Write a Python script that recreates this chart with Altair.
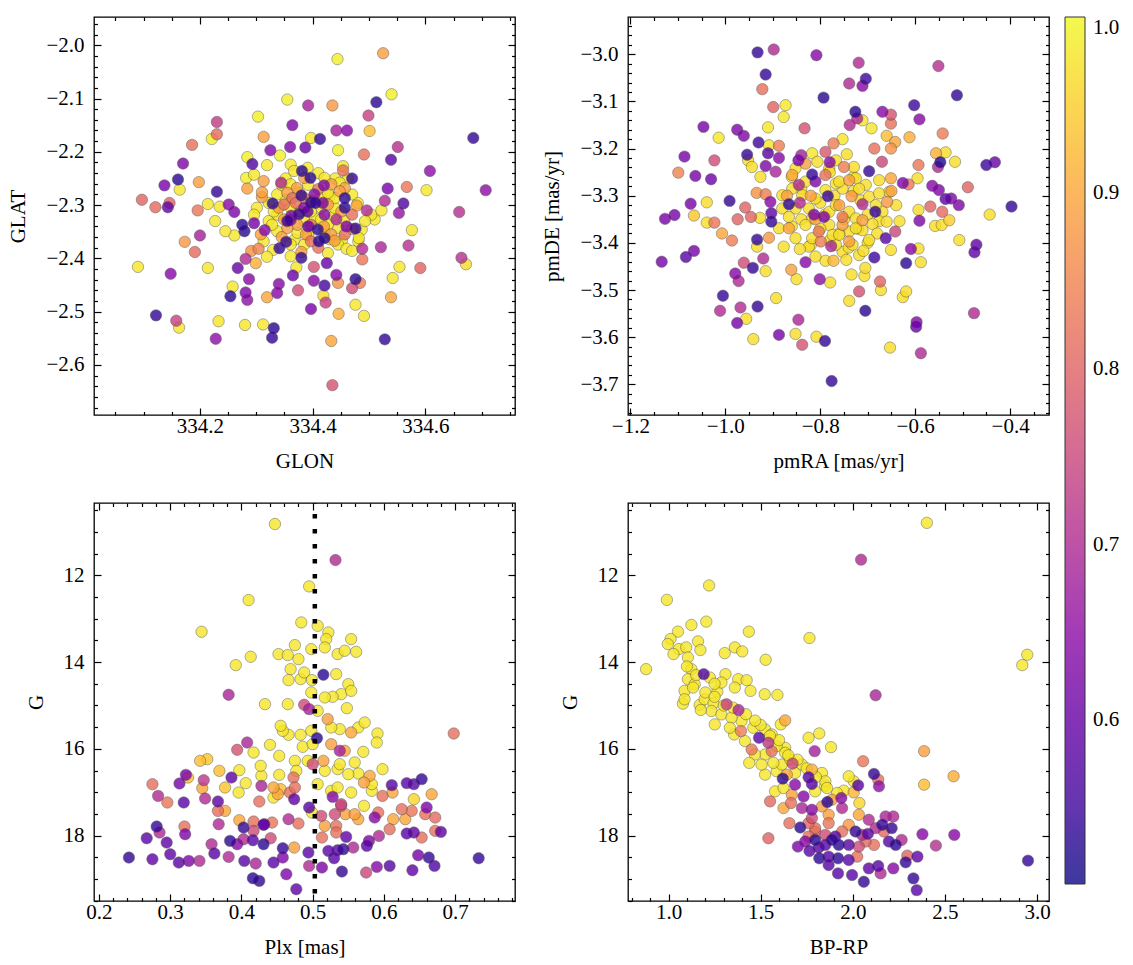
import altair as alt
import pandas as pd

FONT = "Liberation Serif"
FS = 21
P_MIN, P_MAX = 0.507, 1.0
CB_TICKS = [0.6, 0.7, 0.8, 0.9, 1.0]
PLX_MEAN = [0.503]
W, H = 421, 398

# ---------------- top-left: GLON / GLAT ----------------
TL_GLON = [
    334.444, 334.525, 334.540, 334.513, 334.355, 334.392, 334.435, 334.499, 334.303, 334.230,
    334.364, 334.442, 334.461, 334.501, 334.230, 334.221, 334.313, 334.397, 334.413, 334.685,
    334.186, 334.325, 334.360, 334.387, 334.445, 334.551, 334.491, 334.284, 334.342, 334.170,
    334.539, 334.293, 334.319, 334.361, 334.454, 334.608, 334.381, 334.454, 334.137, 334.161,
    334.164, 334.198, 334.282, 334.313, 334.396, 334.470, 334.284, 334.310, 334.344, 334.420,
    334.533, 334.567, 334.602, 334.707, 334.230, 334.097, 334.121, 334.146, 334.143, 334.214,
    334.235, 334.251, 334.261, 334.196, 334.329, 334.397, 334.457, 334.457, 334.478, 334.496,
    334.528, 334.522, 334.561, 334.553, 334.660, 334.227, 334.275, 334.296, 334.315, 334.361,
    334.376, 334.391, 334.442, 334.460, 334.476, 334.245, 334.261, 334.279, 334.576, 334.173,
    334.200, 334.409, 334.191, 334.291, 334.304, 334.341, 334.353, 334.421, 334.411, 334.439,
    334.482, 334.521, 334.570, 334.470, 334.488, 334.281, 334.299, 334.319, 334.361, 334.380,
    334.427, 334.488, 334.090, 334.148, 334.214, 334.267, 334.371, 334.402, 334.425, 334.554,
    334.591, 334.664, 334.672, 334.287, 334.340, 334.365, 334.402, 334.442, 334.445, 334.476,
    334.470, 334.484, 334.542, 334.258, 334.281, 334.284, 334.254, 334.319, 334.337, 334.374,
    334.421, 334.419, 334.423, 334.476, 334.539, 334.397, 334.446, 334.491, 334.122, 334.158,
    334.163, 334.233, 334.280, 334.312, 334.331, 334.328, 334.228, 334.433, 334.528, 334.435,
    334.337, 334.355, 334.364, 334.376, 334.385, 334.403, 334.415, 334.427, 334.439, 334.448,
    334.349, 334.361, 334.370, 334.385, 334.397, 334.415, 334.427, 334.439, 334.451, 334.337,
    334.349, 334.373, 334.385, 334.397, 334.415, 334.427, 334.445, 334.337, 334.355, 334.373,
    334.388, 334.421, 334.433, 334.457, 334.361, 334.385, 334.397, 334.445, 334.313, 334.328,
    334.331, 334.301, 334.296, 334.421, 334.361, 334.385, 334.421, 334.433, 334.448, 334.457,
    334.367, 334.391, 334.296, 334.493, 334.504, 334.510, 334.487, 334.481,
    334.345, 334.372, 334.392, 334.410, 334.440, 334.462, 334.352, 334.380, 334.398, 334.418,
    334.430, 334.470, 334.480, 334.322, 334.340, 334.362, 334.378, 334.404, 334.420, 334.438,
    334.456, 334.470, 334.322, 334.345, 334.368, 334.392, 334.410, 334.430, 334.452, 334.308,
    334.330, 334.380, 334.460, 334.405, 334.392, 334.355, 334.310, 334.470, 334.352, 334.410,
]
TL_GLAT = [
    -2.026, -2.015, -2.092, -2.107, -2.102, -2.113, -2.113, -2.132, -2.134, -2.144,
    -2.150, -2.160, -2.160, -2.161, -2.167, -2.176, -2.172, -2.174, -2.176, -2.174,
    -2.187, -2.197, -2.191, -2.192, -2.197, -2.191, -2.205, -2.210, -2.207, -2.222,
    -2.215, -2.223, -2.225, -2.224, -2.227, -2.236, -2.236, -2.235, -2.263, -2.252,
    -2.271, -2.257, -2.249, -2.255, -2.249, -2.250, -2.269, -2.276, -2.258, -2.263,
    -2.269, -2.266, -2.272, -2.272, -2.275, -2.290, -2.304, -2.296, -2.304, -2.298,
    -2.303, -2.299, -2.313, -2.310, -2.297, -2.295, -2.287, -2.305, -2.301, -2.310,
    -2.292, -2.310, -2.297, -2.315, -2.313, -2.330, -2.337, -2.334, -2.347, -2.328,
    -2.317, -2.312, -2.327, -2.340, -2.344, -2.349, -2.357, -2.349, -2.347, -2.369,
    -2.357, -2.346, -2.388, -2.386, -2.382, -2.381, -2.369, -2.362, -2.368, -2.367,
    -2.362, -2.379, -2.376, -2.386, -2.382, -2.401, -2.409, -2.397, -2.396, -2.399,
    -2.390, -2.402, -2.416, -2.429, -2.418, -2.418, -2.417, -2.416, -2.409, -2.416,
    -2.418, -2.399, -2.411, -2.439, -2.448, -2.432, -2.442, -2.431, -2.446, -2.439,
    -2.456, -2.446, -2.437, -2.453, -2.464, -2.478, -2.471, -2.473, -2.465, -2.460,
    -2.451, -2.470, -2.483, -2.487, -2.473, -2.495, -2.504, -2.508, -2.507, -2.517,
    -2.530, -2.518, -2.525, -2.524, -2.531, -2.549, -2.551, -2.555, -2.552, -2.638,
    -2.280, -2.277, -2.287, -2.277, -2.287, -2.280, -2.287, -2.277, -2.287, -2.274,
    -2.299, -2.305, -2.296, -2.305, -2.312, -2.305, -2.299, -2.305, -2.312, -2.318,
    -2.327, -2.337, -2.330, -2.337, -2.327, -2.337, -2.343, -2.349, -2.343, -2.352,
    -2.355, -2.349, -2.355, -2.355, -2.374, -2.374, -2.368, -2.374, -2.368, -2.337,
    -2.312, -2.305, -2.318, -2.318, -2.261, -2.249, -2.249, -2.261, -2.258, -2.268,
    -2.236, -2.230, -2.243, -2.330, -2.318, -2.327, -2.346, -2.368,
    -2.262, -2.268, -2.262, -2.270, -2.250, -2.250, -2.290, -2.282, -2.292, -2.296,
    -2.283, -2.280, -2.296, -2.296, -2.305, -2.320, -2.312, -2.325, -2.340, -2.320,
    -2.330, -2.318, -2.330, -2.360, -2.365, -2.356, -2.380, -2.364, -2.366, -2.355,
    -2.384, -2.388, -2.382, -2.296, -2.340, -2.330, -2.285, -2.345, -2.250, -2.240,
]
TL_PROB = [
    0.99, 0.89, 0.99, 0.53, 0.99, 0.68, 0.88, 0.74, 0.99, 0.73,
    0.63, 0.68, 0.64, 0.93, 0.81, 0.99, 0.89, 0.98, 0.54, 0.54,
    0.82, 0.63, 0.63, 0.60, 0.99, 0.71, 0.82, 0.99, 0.99, 0.63,
    0.58, 0.57, 0.98, 0.98, 0.98, 0.65, 0.53, 0.82, 0.62, 0.53,
    0.98, 0.89, 0.99, 0.89, 0.53, 0.54, 0.89, 0.89, 0.70, 0.63,
    0.62, 0.83, 0.98, 0.65, 0.54, 0.80, 0.81, 0.80, 0.59, 0.98,
    0.98, 0.64, 0.63, 0.83, 0.53, 0.54, 0.53, 0.53, 0.90, 0.70,
    0.70, 0.98, 0.57, 0.66, 0.71, 0.98, 0.53, 0.62, 0.64, 0.64,
    0.54, 0.59, 0.70, 0.63, 0.54, 0.98, 0.98, 0.53, 0.98, 0.88,
    0.68, 0.53, 0.81, 0.87, 0.85, 0.54, 0.54, 0.53, 0.53, 0.89,
    0.98, 0.69, 0.71, 0.98, 0.70, 0.70, 0.91, 0.98, 0.98, 0.54,
    0.98, 0.83, 0.98, 0.64, 0.98, 0.60, 0.98, 0.77, 0.60, 0.98,
    0.80, 0.71, 0.97, 0.64, 0.64, 0.60, 0.64, 0.64, 0.87, 0.53,
    0.76, 0.84, 0.98, 0.98, 0.63, 0.65, 0.53, 0.90, 0.64, 0.76,
    0.56, 0.97, 0.74, 0.98, 0.90, 0.62, 0.91, 0.98, 0.54, 0.74,
    0.98, 0.98, 0.98, 0.98, 0.53, 0.54, 0.65, 0.90, 0.54, 0.77,
    0.98, 0.89, 0.82, 0.98, 0.89, 0.64, 0.98, 0.98, 0.98, 0.89,
    0.82, 0.98, 0.82, 0.64, 0.98, 0.98, 0.89, 0.98, 0.89, 0.98,
    0.89, 0.89, 0.98, 0.82, 0.98, 0.98, 0.98, 0.98, 0.89, 0.98,
    0.89, 0.98, 0.89, 0.82, 0.98, 0.98, 0.82, 0.98, 0.98, 0.98,
    0.98, 0.98, 0.98, 0.64, 0.98, 0.89, 0.98, 0.89, 0.98, 0.89,
    0.98, 0.98, 0.98, 0.98, 0.98, 0.98, 0.98, 0.98,
    0.98, 0.89, 0.98, 0.82, 0.98, 0.98, 0.98, 0.54, 0.89, 0.63,
    0.98, 0.98, 0.98, 0.98, 0.89, 0.63, 0.89, 0.98, 0.89, 0.98,
    0.98, 0.82, 0.98, 0.89, 0.98, 0.98, 0.82, 0.98, 0.98, 0.89,
    0.98, 0.89, 0.98, 0.54, 0.60, 0.54, 0.89, 0.89, 0.98, 0.98,
]

# ---------------- top-right: pmRA / pmDE ----------------
TR_PMRA = [
    -0.932, -0.898, -0.808, -0.719, -0.551, -0.915, -0.704, -0.739, -0.711, -0.922,
    -0.793, -0.512, -0.602, -0.899, -0.873, -0.877, -0.726, -0.669, -0.651, -0.722,
    -0.591, -1.046, -0.975, -0.910, -0.833, -0.738, -0.711, -0.692, -0.651, -0.961,
    -1.014, -0.542, -0.660, -0.612, -0.642, -0.930, -0.753, -0.772, -0.651, -0.887,
    -0.908, -0.686, -0.954, -0.840, -1.086, -1.023, -1.099, -1.063, -1.030, -0.910,
    -0.952, -0.887, -0.846, -0.817, -0.789, -0.780, -0.744, -0.806, -0.670, -0.556,
    -0.536, -0.516, -0.547, -0.552, -0.450, -0.432, -0.593, -0.915, -0.894, -0.944,
    -0.926, -0.859, -0.845, -0.817, -0.789, -0.810, -0.750, -0.729, -0.697, -0.676,
    -0.651, -0.626, -0.614, -0.595, -0.564, -0.550, -0.489, -0.524, -0.536, -0.508,
    -0.568, -0.543, -0.397, -1.039, -0.991, -1.073, -1.107, -1.127, -1.066, -1.039,
    -1.023, -0.958, -0.934, -0.915, -0.905, -0.880, -0.866, -0.843, -0.784, -0.767,
    -0.734, -0.711, -0.684, -0.659, -0.593, -0.443, -0.974, -0.946, -0.927, -0.903,
    -0.903, -0.866, -0.813, -0.792, -0.753, -0.711, -0.676, -0.633, -0.591, -0.528,
    -0.544, -0.558, -1.007, -0.986, -0.933, -0.908, -0.866, -0.831, -0.803, -0.799,
    -0.774, -0.760, -0.725, -0.697, -0.662, -0.642, -0.507, -0.471, -0.475, -0.933,
    -0.877, -0.843, -0.824, -0.777, -0.732, -0.709, -0.651, -0.609, -0.593, -1.134,
    -1.083, -1.066, -0.961, -0.942, -0.920, -0.831, -0.810, -0.789, -0.772, -0.745,
    -0.686, -0.619, -0.588, -0.979, -0.972, -0.915, -0.861, -0.850, -0.801, -0.779,
    -0.734, -0.705, -0.707, -0.674, -0.672, -1.005, -0.893, -0.718, -0.739, -0.705,
    -0.626, -0.619, -1.011, -0.968, -0.956, -0.932, -0.975, -0.846, -0.476, -0.597,
    -0.598, -0.941, -0.887, -0.852, -0.838, -0.808, -0.790, -0.653, -0.588, -0.776,
    -0.852, -0.831, -0.781, -0.767, -0.739, -0.725, -0.718, -0.767, -0.753, -0.789,
    -0.810, -0.838, -0.852, -0.824, -0.781, -0.739, -0.725, -0.697, -0.676, -0.683,
    -0.655, -0.781, -0.753, -0.739, -0.711, -0.767, -0.817, -0.852, -0.887, -0.880,
    -0.859, -0.831, -0.704, -0.739, -0.718, -0.753, -0.817, -0.669,
    -0.860, -0.840, -0.820, -0.800, -0.790, -0.770, -0.760, -0.750, -0.730, -0.715,
    -0.700, -0.690, -0.760, -0.780, -0.800, -0.840, -0.860, -0.870, -0.820, -0.740,
    -0.700, -0.680, -0.660, -0.640, -0.650, -0.780, -0.760, -0.730, -0.810, -0.720,
]
TR_PMDE = [
    -2.996, -2.990, -3.002, -3.018, -3.025, -3.043, -3.052, -3.062, -3.067, -3.074,
    -3.092, -3.087, -3.108, -3.112, -3.108, -3.133, -3.122, -3.122, -3.128, -3.136,
    -3.138, -3.154, -3.160, -3.155, -3.157, -3.150, -3.140, -3.157, -3.147, -3.173,
    -3.177, -3.168, -3.173, -3.176, -3.186, -3.187, -3.180, -3.189, -3.200, -3.194,
    -3.193, -3.200, -3.213, -3.214, -3.217, -3.225, -3.251, -3.258, -3.265, -3.210,
    -3.225, -3.220, -3.225, -3.210, -3.207, -3.229, -3.212, -3.228, -3.228, -3.210,
    -3.208, -3.228, -3.229, -3.239, -3.235, -3.229, -3.235, -3.237, -3.249, -3.239,
    -3.260, -3.256, -3.277, -3.255, -3.256, -3.270, -3.239, -3.239, -3.248, -3.267,
    -3.263, -3.273, -3.276, -3.263, -3.279, -3.288, -3.282, -3.306, -3.307, -3.320,
    -3.323, -3.334, -3.323, -3.314, -3.311, -3.317, -3.341, -3.349, -3.342, -3.357,
    -3.357, -3.325, -3.294, -3.297, -3.313, -3.299, -3.318, -3.315, -3.301, -3.320,
    -3.301, -3.318, -3.334, -3.313, -3.330, -3.340, -3.350, -3.345, -3.347, -3.337,
    -3.355, -3.345, -3.340, -3.345, -3.345, -3.352, -3.354, -3.354, -3.353, -3.352,
    -3.362, -3.364, -3.380, -3.395, -3.393, -3.389, -3.369, -3.362, -3.376, -3.397,
    -3.383, -3.383, -3.369, -3.394, -3.390, -3.376, -3.394, -3.404, -3.420, -3.408,
    -3.408, -3.413, -3.408, -3.407, -3.404, -3.417, -3.415, -3.413, -3.412, -3.440,
    -3.430, -3.417, -3.442, -3.453, -3.433, -3.441, -3.429, -3.438, -3.438, -3.436,
    -3.431, -3.443, -3.441, -3.465, -3.481, -3.460, -3.457, -3.477, -3.477, -3.484,
    -3.467, -3.453, -3.470, -3.482, -3.500, -3.512, -3.517, -3.503, -3.523, -3.544,
    -3.515, -3.503, -3.544, -3.537, -3.561, -3.535, -3.570, -3.563, -3.549, -3.568,
    -3.578, -3.604, -3.595, -3.593, -3.616, -3.599, -3.608, -3.622, -3.634, -3.693,
    -3.242, -3.232, -3.242, -3.225, -3.267, -3.263, -3.285, -3.274, -3.285, -3.288,
    -3.306, -3.299, -3.327, -3.327, -3.334, -3.334, -3.348, -3.302, -3.295, -3.320,
    -3.292, -3.362, -3.362, -3.376, -3.373, -3.404, -3.390, -3.390, -3.369, -3.327,
    -3.285, -3.270, -3.277, -3.397, -3.426, -3.419, -3.348, -3.334,
    -3.260, -3.285, -3.300, -3.315, -3.340, -3.300, -3.320, -3.350, -3.290, -3.310,
    -3.340, -3.360, -3.380, -3.395, -3.370, -3.350, -3.365, -3.300, -3.405, -3.410,
    -3.400, -3.380, -3.355, -3.320, -3.290, -3.250, -3.270, -3.260, -3.350, -3.370,
]
TR_PROB = [
    0.54, 0.70, 0.64, 0.70, 0.71, 0.54, 0.55, 0.70, 0.64, 0.82,
    0.53, 0.54, 0.55, 0.80, 0.98, 0.98, 0.53, 0.64, 0.77, 0.70,
    0.64, 0.62, 0.63, 0.98, 0.77, 0.70, 0.98, 0.98, 0.82, 0.63,
    0.98, 0.84, 0.93, 0.91, 0.90, 0.55, 0.98, 0.84, 0.87, 0.84,
    0.98, 0.82, 0.54, 0.68, 0.62, 0.76, 0.85, 0.62, 0.61, 0.58,
    0.97, 0.64, 0.62, 0.98, 0.78, 0.64, 0.97, 0.97, 0.75, 0.91,
    0.97, 0.97, 0.52, 0.70, 0.55, 0.60, 0.83, 0.63, 0.69, 0.97,
    0.97, 0.90, 0.70, 0.54, 0.82, 0.63, 0.84, 0.97, 0.54, 0.97,
    0.90, 0.63, 0.83, 0.97, 0.64, 0.63, 0.80, 0.63, 0.59, 0.63,
    0.80, 0.81, 0.54, 0.97, 0.54, 0.62, 0.62, 0.62, 0.94, 0.97,
    0.83, 0.80, 0.87, 0.84, 0.64, 0.97, 0.53, 0.70, 0.54, 0.97,
    0.88, 0.70, 0.54, 0.88, 0.97, 0.97, 0.80, 0.80, 0.97, 0.59,
    0.54, 0.97, 0.63, 0.63, 0.83, 0.89, 0.97, 0.97, 0.63, 0.95,
    0.97, 0.97, 0.90, 0.84, 0.54, 0.88, 0.90, 0.97, 0.83, 0.84,
    0.97, 0.97, 0.97, 0.97, 0.58, 0.75, 0.97, 0.59, 0.59, 0.97,
    0.97, 0.97, 0.97, 0.69, 0.97, 0.97, 0.97, 0.64, 0.97, 0.62,
    0.58, 0.62, 0.76, 0.54, 0.70, 0.64, 0.97, 0.97, 0.92, 0.97,
    0.55, 0.53, 0.97, 0.64, 0.70, 0.97, 0.89, 0.97, 0.65, 0.97,
    0.97, 0.97, 0.97, 0.80, 0.97, 0.54, 0.97, 0.77, 0.97, 0.53,
    0.97, 0.97, 0.70, 0.70, 0.97, 0.54, 0.62, 0.69, 0.70, 0.64,
    0.60, 0.97, 0.62, 0.97, 0.77, 0.97, 0.54, 0.97, 0.70, 0.54,
    0.97, 0.89, 0.97, 0.97, 0.89, 0.97, 0.97, 0.97, 0.97, 0.97,
    0.97, 0.97, 0.97, 0.97, 0.97, 0.97, 0.97, 0.97, 0.97, 0.97,
    0.97, 0.97, 0.89, 0.97, 0.97, 0.97, 0.97, 0.97, 0.97, 0.97,
    0.97, 0.97, 0.97, 0.89, 0.97, 0.97, 0.97, 0.97,
    0.97, 0.97, 0.89, 0.97, 0.97, 0.97, 0.89, 0.97, 0.97, 0.97,
    0.97, 0.97, 0.97, 0.97, 0.97, 0.97, 0.97, 0.89, 0.97, 0.97,
    0.97, 0.97, 0.97, 0.97, 0.89, 0.97, 0.97, 0.97, 0.89, 0.97,
]

# ---------------- bottom-left: Plx / G ----------------
BL_PLX = [
    0.447, 0.532, 0.495, 0.410, 0.344, 0.484, 0.507, 0.522, 0.519, 0.554,
    0.475, 0.498, 0.517, 0.535, 0.545, 0.561, 0.452, 0.465, 0.480, 0.413,
    0.392, 0.469, 0.488, 0.499, 0.515, 0.533, 0.466, 0.483, 0.550, 0.554,
    0.540, 0.528, 0.517, 0.498, 0.382, 0.433, 0.465, 0.488, 0.495, 0.507,
    0.548, 0.521, 0.455, 0.458, 0.466, 0.483, 0.498, 0.526, 0.538, 0.554,
    0.564, 0.573, 0.591, 0.698, 0.408, 0.394, 0.440, 0.417, 0.486, 0.500,
    0.506, 0.526, 0.538, 0.545, 0.571, 0.590, 0.342, 0.352, 0.453, 0.475,
    0.493, 0.515, 0.538, 0.559, 0.500, 0.322, 0.325, 0.369, 0.397, 0.427,
    0.428, 0.453, 0.477, 0.517, 0.535, 0.550, 0.564, 0.580, 0.598, 0.275,
    0.313, 0.347, 0.345, 0.386, 0.377, 0.406, 0.428, 0.445, 0.455, 0.473,
    0.475, 0.507, 0.535, 0.572, 0.583, 0.611, 0.632, 0.642, 0.653, 0.283,
    0.296, 0.319, 0.349, 0.367, 0.396, 0.425, 0.445, 0.451, 0.474, 0.468,
    0.526, 0.528, 0.540, 0.554, 0.572, 0.583, 0.598, 0.612, 0.642, 0.667,
    0.367, 0.377, 0.397, 0.417, 0.432, 0.443, 0.466, 0.480, 0.495, 0.499,
    0.512, 0.517, 0.531, 0.533, 0.540, 0.546, 0.559, 0.564, 0.587, 0.592,
    0.613, 0.625, 0.630, 0.639, 0.658, 0.660, 0.672, 0.281, 0.285, 0.320,
    0.321, 0.368, 0.403, 0.431, 0.417, 0.267, 0.295, 0.358, 0.384, 0.403,
    0.416, 0.431, 0.441, 0.394, 0.474, 0.458, 0.513, 0.533, 0.547, 0.576,
    0.593, 0.608, 0.632, 0.642, 0.653, 0.672, 0.680, 0.242, 0.275, 0.300,
    0.312, 0.326, 0.341, 0.362, 0.382, 0.404, 0.420, 0.445, 0.458, 0.494,
    0.522, 0.535, 0.543, 0.557, 0.579, 0.590, 0.608, 0.648, 0.663, 0.671,
    0.733, 0.416, 0.425, 0.463, 0.495, 0.513, 0.530, 0.541, 0.575, 0.640, 0.477,
]
BL_G = [
    10.815, 11.646, 12.254, 12.569, 13.300, 13.085, 13.162, 13.315, 13.469, 13.469,
    13.608, 13.700, 13.662, 13.815, 13.738, 13.762, 13.815, 13.838, 13.931, 13.877,
    14.069, 14.162, 14.238, 14.415, 14.292, 14.277, 14.415, 14.392, 14.508, 14.662,
    14.738, 14.800, 14.815, 14.700, 14.754, 14.969, 14.969, 14.985, 15.085, 15.123,
    15.062, 15.315, 15.469, 15.585, 15.677, 15.677, 15.585, 15.508, 15.546, 15.623,
    15.508, 15.392, 15.646, 15.646, 15.854, 16.023, 15.908, 16.085, 15.954, 15.892,
    15.754, 15.892, 16.046, 16.046, 16.069, 15.854, 16.277, 16.238, 16.162, 16.277,
    16.277, 16.277, 16.354, 16.315, 16.354, 16.600, 16.662, 16.508, 16.492, 16.392,
    16.623, 16.600, 16.508, 16.508, 16.469, 16.585, 16.569, 16.623, 16.469, 16.815,
    16.800, 16.723, 16.908, 16.662, 16.892, 16.792, 16.854, 16.892, 16.931, 16.662,
    16.892, 16.815, 16.892, 16.777, 16.815, 16.838, 16.792, 16.815, 16.700, 17.085,
    17.238, 17.238, 17.146, 17.215, 17.008, 17.215, 17.123, 17.046, 17.162, 17.008,
    16.969, 17.108, 17.277, 17.008, 17.315, 16.969, 17.085, 17.008, 17.162, 17.046,
    17.431, 17.431, 17.646, 17.677, 17.738, 17.700, 17.623, 17.723, 17.354, 17.469,
    17.546, 17.777, 17.508, 17.777, 17.315, 17.508, 17.508, 17.623, 17.585, 17.469,
    17.623, 17.392, 17.623, 17.431, 17.508, 17.354, 17.585, 17.792, 17.931, 17.792,
    17.969, 17.738, 17.815, 17.754, 17.892, 18.062, 18.162, 18.200, 18.123, 18.085,
    18.108, 18.200, 18.062, 18.200, 18.277, 18.292, 18.046, 17.931, 18.031, 18.238,
    18.008, 17.854, 17.954, 17.931, 18.046, 17.892, 17.915, 18.508, 18.546, 18.431,
    18.623, 18.585, 18.585, 18.415, 18.492, 18.585, 18.646, 18.623, 18.508, 18.392,
    18.354, 18.338, 18.315, 18.277, 18.123, 18.723, 18.700, 18.454, 18.508, 18.700,
    18.523, 18.985, 19.046, 18.892, 18.700, 18.738, 18.523, 18.831, 18.854, 18.800, 19.238,
]
BL_PROB = [
    0.98, 0.70, 0.98, 0.98, 0.98, 0.98, 0.98, 0.98, 0.98, 0.98,
    0.98, 0.98, 0.98, 0.98, 0.98, 0.98, 0.98, 0.98, 0.98, 0.98,
    0.98, 0.98, 0.98, 0.98, 0.53, 0.98, 0.98, 0.98, 0.98, 0.98,
    0.98, 0.98, 0.98, 0.98, 0.69, 0.98, 0.98, 0.76, 0.68, 0.98,
    0.98, 0.89, 0.98, 0.98, 0.98, 0.98, 0.98, 0.98, 0.98, 0.90,
    0.98, 0.98, 0.98, 0.82, 0.69, 0.77, 0.98, 0.98, 0.98, 0.98,
    0.53, 0.89, 0.68, 0.90, 0.98, 0.98, 0.93, 0.94, 0.98, 0.98,
    0.98, 0.89, 0.98, 0.98, 0.76, 0.62, 0.93, 0.93, 0.98, 0.98,
    0.98, 0.98, 0.98, 0.98, 0.98, 0.98, 0.98, 0.90, 0.98, 0.82,
    0.62, 0.72, 0.90, 0.59, 0.94, 0.98, 0.69, 0.90, 0.93, 0.82,
    0.82, 0.98, 0.98, 0.89, 0.98, 0.58, 0.58, 0.58, 0.54, 0.70,
    0.83, 0.58, 0.70, 0.59, 0.98, 0.82, 0.98, 0.90, 0.59, 0.82,
    0.98, 0.64, 0.75, 0.98, 0.98, 0.98, 0.82, 0.90, 0.96, 0.90,
    0.82, 0.90, 0.90, 0.82, 0.64, 0.83, 0.70, 0.82, 0.58, 0.98,
    0.76, 0.89, 0.76, 0.82, 0.76, 0.89, 0.89, 0.90, 0.64, 0.82,
    0.90, 0.82, 0.90, 0.83, 0.82, 0.63, 0.81, 0.54, 0.70, 0.82,
    0.63, 0.70, 0.54, 0.59, 0.76, 0.58, 0.59, 0.70, 0.53, 0.70,
    0.58, 0.53, 0.76, 0.64, 0.89, 0.54, 0.82, 0.82, 0.59, 0.58,
    0.70, 0.82, 0.58, 0.59, 0.82, 0.82, 0.59, 0.54, 0.59, 0.59,
    0.58, 0.63, 0.70, 0.58, 0.70, 0.58, 0.69, 0.58, 0.63, 0.58,
    0.58, 0.58, 0.54, 0.70, 0.63, 0.64, 0.58, 0.62, 0.54, 0.57,
    0.54, 0.53, 0.54, 0.63, 0.70, 0.63, 0.58, 0.54, 0.75, 0.59, 0.59,
]

# ---------------- bottom-right: BP-RP / G ----------------
BR_BPRP = [
    2.402, 2.045, 1.220, 0.991, 1.205, 1.124, 1.051, 1.436, 1.765, 1.011,
    0.996, 1.056, 1.160, 1.173, 1.096, 1.027, 1.105, 0.878, 1.527, 1.305,
    1.360, 1.400, 2.947, 2.920, 1.124, 1.191, 1.224, 1.309, 1.105, 1.142,
    1.087, 1.133, 1.287, 1.378, 1.424, 1.265, 1.360, 1.445, 1.522, 1.591,
    1.087, 1.078, 1.169, 1.196, 1.244, 1.315, 1.380, 2.124, 1.175, 1.233,
    1.287, 1.342, 1.396, 1.251, 1.333, 1.393, 1.460, 1.524, 1.560, 1.491,
    1.633, 1.609, 1.760, 1.818, 1.882, 1.793, 1.356, 1.415, 1.451, 1.542,
    1.587, 1.633, 1.469, 1.524, 1.560, 1.633, 1.660, 1.438, 1.505, 1.569,
    1.615, 1.673, 1.724, 2.387, 2.056, 1.524, 1.587, 1.642, 1.687, 1.778,
    1.833, 1.760, 1.620, 1.687, 1.778, 1.851, 1.978, 2.005, 2.115, 2.138,
    2.142, 2.029, 2.387, 2.547, 1.578, 1.624, 1.669, 1.733, 1.796, 1.860,
    1.915, 1.951, 2.005, 1.887, 1.862, 1.938, 1.942, 1.551, 1.624, 1.665,
    1.724, 1.778, 1.833, 1.869, 1.778, 2.036, 2.033, 2.087, 2.178, 2.220,
    2.160, 2.211, 1.656, 1.715, 1.760, 1.796, 1.869, 1.542, 1.760, 1.796,
    1.851, 1.905, 1.942, 1.978, 2.015, 2.051, 2.082, 2.124, 2.169, 2.378,
    2.551, 2.451, 1.702, 1.742, 1.796, 1.765, 1.815, 1.851, 1.887, 1.924,
    1.978, 2.033, 2.069, 2.115, 2.196, 2.233, 2.265, 2.296, 2.287, 2.351,
    1.818, 1.869, 1.920, 1.978, 2.024, 2.087, 2.138, 2.220, 1.869, 1.920,
    1.996, 2.060, 2.151, 2.329, 2.347, 2.951,
    1.200, 1.250, 1.300, 1.350, 1.420, 1.470, 1.500, 1.550, 1.600, 1.650,
    1.700, 1.750, 1.800, 1.850, 1.150, 1.100, 1.250,
]
BR_G = [
    10.788, 11.637, 12.232, 12.564, 13.066, 13.143, 13.297, 13.297, 13.444, 13.467,
    13.583, 13.699, 13.521, 13.722, 13.660, 13.815, 13.892, 14.162, 13.946, 13.792,
    13.660, 13.753, 13.830, 14.069, 14.162, 14.278, 14.355, 14.278, 14.394, 14.510,
    14.664, 14.587, 14.471, 14.394, 14.417, 14.680, 14.587, 14.664, 14.741, 14.757,
    14.857, 14.958, 14.988, 14.857, 14.950, 14.973, 15.104, 14.764, 15.104, 15.127,
    15.205, 15.282, 15.359, 15.436, 15.514, 15.591, 15.514, 15.552, 15.668, 15.745,
    15.344, 15.436, 15.745, 15.645, 15.961, 16.054, 15.668, 15.822, 16.015, 15.861,
    15.938, 15.977, 16.131, 16.131, 16.054, 16.093, 16.247, 16.324, 16.363, 16.324,
    16.363, 16.340, 16.363, 16.054, 16.286, 16.595, 16.517, 16.595, 16.556, 16.479,
    16.556, 16.656, 16.687, 16.826, 16.811, 16.749, 16.633, 16.749, 16.579, 16.710,
    16.865, 16.842, 16.826, 16.633, 16.981, 16.903, 17.058, 17.097, 16.981, 16.903,
    17.019, 16.965, 17.004, 17.174, 17.228, 17.135, 17.367, 17.212, 17.367, 17.251,
    17.367, 17.405, 17.328, 17.521, 17.598, 17.251, 17.521, 17.637, 17.560, 17.560,
    17.753, 17.830, 17.714, 17.815, 17.714, 17.830, 17.714, 18.062, 18.023, 17.907,
    17.985, 18.023, 17.907, 17.753, 17.907, 17.985, 17.961, 17.830, 17.907, 17.969,
    17.985, 18.232, 18.255, 18.139, 18.100, 18.355, 18.278, 18.216, 18.100, 18.216,
    18.216, 18.255, 18.139, 18.216, 18.139, 18.216, 18.100, 18.463, 18.618, 18.486,
    18.525, 18.486, 18.525, 18.564, 18.486, 18.757, 18.703, 18.757, 18.680, 18.873,
    18.911, 19.066, 18.873, 18.988, 19.259, 18.579,
    14.700, 14.800, 15.000, 15.050, 15.200, 15.350, 15.450, 15.700, 15.800, 16.150,
    16.250, 16.450, 16.650, 16.850, 14.300, 14.100, 14.500,
]
BR_PROB = [
    0.98, 0.70, 0.98, 0.98, 0.98, 0.98, 0.98, 0.98, 0.98, 0.98,
    0.98, 0.98, 0.98, 0.98, 0.98, 0.98, 0.98, 0.98, 0.98, 0.98,
    0.98, 0.98, 0.98, 0.98, 0.98, 0.57, 0.98, 0.98, 0.98, 0.98,
    0.98, 0.98, 0.98, 0.98, 0.98, 0.98, 0.98, 0.98, 0.98, 0.98,
    0.98, 0.98, 0.98, 0.98, 0.98, 0.74, 0.69, 0.69, 0.98, 0.98,
    0.98, 0.98, 0.98, 0.98, 0.98, 0.84, 0.98, 0.98, 0.98, 0.58,
    0.90, 0.98, 0.98, 0.98, 0.98, 0.68, 0.98, 0.98, 0.83, 0.72,
    0.98, 0.98, 0.98, 0.98, 0.82, 0.98, 0.98, 0.98, 0.98, 0.98,
    0.98, 0.75, 0.98, 0.89, 0.83, 0.98, 0.98, 0.90, 0.98, 0.91,
    0.98, 0.58, 0.53, 0.64, 0.58, 0.98, 0.98, 0.98, 0.54, 0.82,
    0.65, 0.58, 0.93, 0.91, 0.98, 0.98, 0.89, 0.64, 0.98, 0.98,
    0.98, 0.98, 0.92, 0.89, 0.53, 0.64, 0.70, 0.81, 0.90, 0.82,
    0.69, 0.64, 0.89, 0.89, 0.76, 0.96, 0.90, 0.70, 0.69, 0.70,
    0.54, 0.54, 0.82, 0.53, 0.81, 0.82, 0.83, 0.80, 0.82, 0.82,
    0.76, 0.58, 0.82, 0.88, 0.54, 0.70, 0.58, 0.70, 0.81, 0.64,
    0.64, 0.71, 0.63, 0.64, 0.53, 0.58, 0.58, 0.58, 0.53, 0.53,
    0.58, 0.76, 0.81, 0.82, 0.58, 0.53, 0.70, 0.80, 0.54, 0.59,
    0.53, 0.58, 0.53, 0.58, 0.82, 0.59, 0.58, 0.64, 0.58, 0.58,
    0.58, 0.54, 0.70, 0.54, 0.58, 0.54,
    0.98, 0.98, 0.98, 0.98, 0.98, 0.98, 0.98, 0.98, 0.98, 0.98,
    0.98, 0.98, 0.98, 0.98, 0.98, 0.98, 0.98,
]


def vals(lo, hi, step):
    n = int(round((hi - lo) / step))
    return [round(lo + i * step, 4) for i in range(n + 1)]


def tick_axis(orient, values, step, offset):
    test = f"abs(datum.value / {step} - round(datum.value / {step})) < 0.001"
    return alt.Axis(
        orient=orient, values=values, labels=False, title=None, domain=False,
        grid=False, ticks=True, offset=offset, tickColor="black", tickWidth=1.2,
        tickSize={"condition": {"test": test, "value": 7}, "value": 3.5},
    )


LEGEND = alt.Legend(
    title=None, orient="right", direction="vertical", gradientLength=867,
    gradientThickness=20, values=CB_TICKS, format=".1f", labelFont=FONT,
    labelFontSize=FS, labelColor="black", labelOffset=8, offset=14,
    gradientStrokeColor="black", gradientStrokeWidth=1, padding=0,
)


def panel(df, xf, yf, xdom, ydom, xtitle, ytitle, xmaj, xall, xstep,
          ymaj, yall, ystep, xfmt, yfmt, yrev=False, extra=()):
    df = df.sort_values("p", ascending=False)
    xs = alt.Scale(domain=xdom, nice=False, zero=False)
    ys = alt.Scale(domain=ydom, nice=False, zero=False, reverse=yrev)
    base = alt.Chart(df)
    pts = base.mark_circle(size=130, opacity=0.8, stroke="#3a3a3a", strokeWidth=0.5).encode(
        x=alt.X(f"{xf}:Q", scale=xs, axis=alt.Axis(
            orient="bottom", values=xmaj, format=xfmt, title=xtitle, ticks=False,
            tickSize=0, domain=False, grid=False, labelPadding=0, titlePadding=14,
            labelFont=FONT, titleFont=FONT, labelFontSize=FS, titleFontSize=FS)),
        y=alt.Y(f"{yf}:Q", scale=ys, axis=alt.Axis(
            orient="left", values=ymaj, format=yfmt, title=ytitle, ticks=False,
            tickSize=0, domain=False, grid=False, labelPadding=10, titlePadding=17,
            labelFont=FONT, titleFont=FONT, labelFontSize=FS, titleFontSize=FS)),
        color=alt.Color("p:Q", scale=alt.Scale(scheme="plasma", domain=[P_MIN, P_MAX]),
                        legend=LEGEND),
    )
    t1 = base.mark_circle(opacity=0).encode(
        x=alt.X(f"{xf}:Q", scale=xs, axis=tick_axis("top", xall, xstep, -H)),
        y=alt.Y(f"{yf}:Q", scale=ys, axis=tick_axis("right", yall, ystep, -W)),
    )
    t2 = base.mark_circle(opacity=0).encode(
        x=alt.X(f"{xf}:Q", scale=xs, axis=tick_axis("bottom", xall, xstep, -H)),
        y=alt.Y(f"{yf}:Q", scale=ys, axis=tick_axis("left", yall, ystep, -W)),
    )
    layers = [pts, t1, t2] + [e(xs) for e in extra]
    return alt.layer(*layers).resolve_axis(x="independent", y="independent").properties(
        width=W, height=H)


def plx_rule(xs):
    return alt.Chart(pd.DataFrame({"plx": PLX_MEAN})).mark_rule(
        color="black", strokeWidth=4.5, strokeDash=[4.5, 10.5], strokeCap="butt",
        strokeDashOffset=-11,
    ).encode(x=alt.X("plx:Q", scale=xs, axis=None))


tl = panel(pd.DataFrame({"GLON": TL_GLON, "GLAT": TL_GLAT, "p": TL_PROB}),
           "GLON", "GLAT", [334.012, 334.759], [-2.694, -1.947], "GLON", "GLAT",
           [334.2, 334.4, 334.6], vals(334.05, 334.75, 0.05), 0.2,
           [-2.6, -2.5, -2.4, -2.3, -2.2, -2.1, -2.0], vals(-2.68, -1.96, 0.02), 0.1,
           ".1f", ".1f")
tr = panel(pd.DataFrame({"pmRA": TR_PMRA, "pmDE": TR_PMDE, "p": TR_PROB}),
           "pmRA", "pmDE", [-1.205, -0.318], [-3.765, -2.921], "pmRA [mas/yr]", "pmDE [mas/yr]",
           [-1.2, -1.0, -0.8, -0.6, -0.4], vals(-1.2, -0.35, 0.05), 0.2,
           [-3.7, -3.6, -3.5, -3.4, -3.3, -3.2, -3.1, -3.0], vals(-3.76, -2.94, 0.02), 0.1,
           ".1f", ".1f")
bl = panel(pd.DataFrame({"Plx": BL_PLX, "G": BL_G, "p": BL_PROB}),
           "Plx", "G", [0.193, 0.784], [10.33, 19.51], "Plx [mas]", "G",
           [0.2, 0.3, 0.4, 0.5, 0.6, 0.7], vals(0.2, 0.78, 0.02), 0.1,
           [12, 14, 16, 18], vals(10.5, 19.5, 0.5), 2,
           ".1f", "d", yrev=True, extra=(plx_rule,))
br = panel(pd.DataFrame({"BPRP": BR_BPRP, "G": BR_G, "p": BR_PROB}),
           "BPRP", "G", [0.780, 3.065], [10.33, 19.51], "BP-RP", "G",
           [1.0, 1.5, 2.0, 2.5, 3.0], vals(0.8, 3.0, 0.1), 0.5,
           [12, 14, 16, 18], vals(10.5, 19.5, 0.5), 2,
           ".1f", "d", yrev=True)

chart = alt.concat(
    tl, tr, bl, br, columns=2, spacing={"row": 88, "column": 113}, bounds="flush"
).properties(
    padding={"left": 7, "top": 15, "right": 5, "bottom": 5}, background="white"
).configure_view(
    stroke="black", strokeWidth=1.3
).configure_axis(
    labelFont=FONT, titleFont=FONT, labelFontSize=FS, titleFontSize=FS,
    titleFontWeight="normal", labelColor="black", titleColor="black",
).configure_legend(
    labelFont=FONT, labelFontSize=FS,
)

chart.save("out.html", embed_options={"renderer": "svg", "actions": False})
